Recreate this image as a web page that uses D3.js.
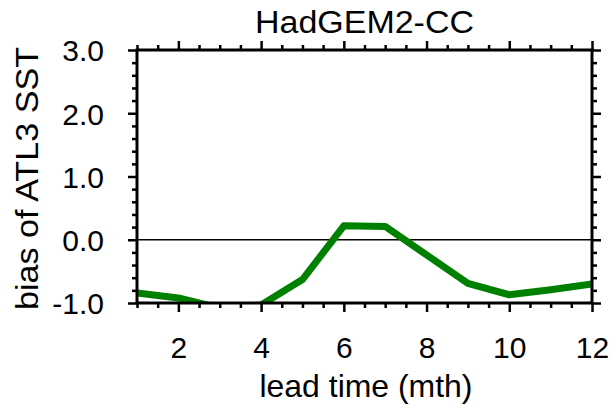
<!DOCTYPE html>
<html><head><meta charset="utf-8">
<script src="https://cdn.jsdelivr.net/npm/d3@7"></script>
<style>body{margin:0;background:#fff;} text{font-family:"Liberation Sans",Arial,sans-serif;fill:#000;}</style>
</head><body>
<svg id="c" width="611" height="409"></svg>
<script>
const leadMonths = [1,2,3,4,5,6,7,8,9,10,11,12];
const biasValues = [-0.84,-0.92,-1.08,-1.03,-0.63,0.22,0.21,-0.24,-0.69,-0.87,-0.79,-0.70];
const xTickValues = [2,4,6,8,10,12];
const yTickValues = [-1,0,1,2,3];
const titleText = "HadGEM2-CC";
const xLabelText = "lead time (mth)";
const yLabelText = "bias of ATL3 SST";

const svg = d3.select("#c");
const L = 137, R = 592, T = 50, B = 303;
const x = d3.scaleLinear().domain([1,12]).range([L,R]);
const y = d3.scaleLinear().domain([-1,3]).range([B,T]);

svg.append("clipPath").attr("id","clip").append("rect")
  .attr("x",L).attr("y",T).attr("width",R-L).attr("height",B-T);

// zero line
svg.append("line").attr("x1",L).attr("x2",R).attr("y1",y(0)).attr("y2",y(0))
  .attr("stroke","#000").attr("stroke-width",1.3);

// data line
svg.append("path").datum(leadMonths.map((m,i)=>[m,biasValues[i]]))
  .attr("clip-path","url(#clip)")
  .attr("fill","none").attr("stroke","#008000").attr("stroke-width",7)
  .attr("stroke-linejoin","round")
  .attr("d", d3.line().x(d=>x(d[0])).y(d=>y(d[1])));

// axes
function styleAxis(g){
  g.selectAll(".domain").remove();
  g.selectAll(".tick line").attr("stroke","#000").attr("stroke-width",2.5);
}
const xMinor = d3.range(1,12.01,0.5).filter(v=>v%2!==0);
const yMinor = d3.range(-1,3.001,0.2).map(v=>+v.toFixed(2)).filter(v=>Math.abs(v-Math.round(v))>1e-6);
const yFmt = v => d3.format(".1f")(v).replace("\u2212","-");

const gxB = svg.append("g").attr("transform",`translate(0,${B})`)
  .call(d3.axisBottom(x).tickValues(xTickValues).tickSize(9).tickFormat(d3.format("d")));
styleAxis(gxB);
gxB.selectAll(".tick text").attr("font-size",30).attr("dy","0").attr("y",55);
svg.append("g").attr("transform",`translate(0,${B})`)
  .call(d3.axisBottom(x).tickValues(xMinor).tickSize(5).tickFormat(""))
  .call(styleAxis);
const gxT = svg.append("g").attr("transform",`translate(0,${T})`)
  .call(d3.axisTop(x).tickValues(xTickValues).tickSize(9).tickFormat(""));
styleAxis(gxT);
svg.append("g").attr("transform",`translate(0,${T})`)
  .call(d3.axisTop(x).tickValues(xMinor).tickSize(5).tickFormat(""))
  .call(styleAxis);

const gyL = svg.append("g").attr("transform",`translate(${L},0)`)
  .call(d3.axisLeft(y).tickValues(yTickValues).tickSize(9).tickPadding(24).tickFormat(yFmt));
styleAxis(gyL);
gyL.selectAll("text").attr("font-size",30).attr("dy","0.36em");
svg.append("g").attr("transform",`translate(${L},0)`)
  .call(d3.axisLeft(y).tickValues(yMinor).tickSize(5).tickFormat(""))
  .call(styleAxis);
svg.append("g").attr("transform",`translate(${R},0)`)
  .call(d3.axisRight(y).tickValues(yTickValues).tickSize(9).tickFormat(""))
  .call(styleAxis);
svg.append("g").attr("transform",`translate(${R},0)`)
  .call(d3.axisRight(y).tickValues(yMinor).tickSize(5).tickFormat(""))
  .call(styleAxis);

// frame
svg.append("rect").attr("x",L).attr("y",T).attr("width",R-L).attr("height",B-T)
  .attr("fill","none").attr("stroke","#000").attr("stroke-width",3);

// labels
svg.append("text").attr("x",(L+R)/2).attr("y",33).attr("text-anchor","middle")
  .attr("font-size",31).attr("textLength",219).attr("lengthAdjust","spacingAndGlyphs").text(titleText);
svg.append("text").attr("x",366).attr("y",397).attr("text-anchor","middle")
  .attr("font-size",32).attr("textLength",213).attr("lengthAdjust","spacingAndGlyphs").text(xLabelText);
svg.append("text").attr("transform",`translate(38,178.5) rotate(-90)`).attr("text-anchor","middle")
  .attr("font-size",32).attr("textLength",263).attr("lengthAdjust","spacingAndGlyphs").text(yLabelText);
</script>
</body></html>
